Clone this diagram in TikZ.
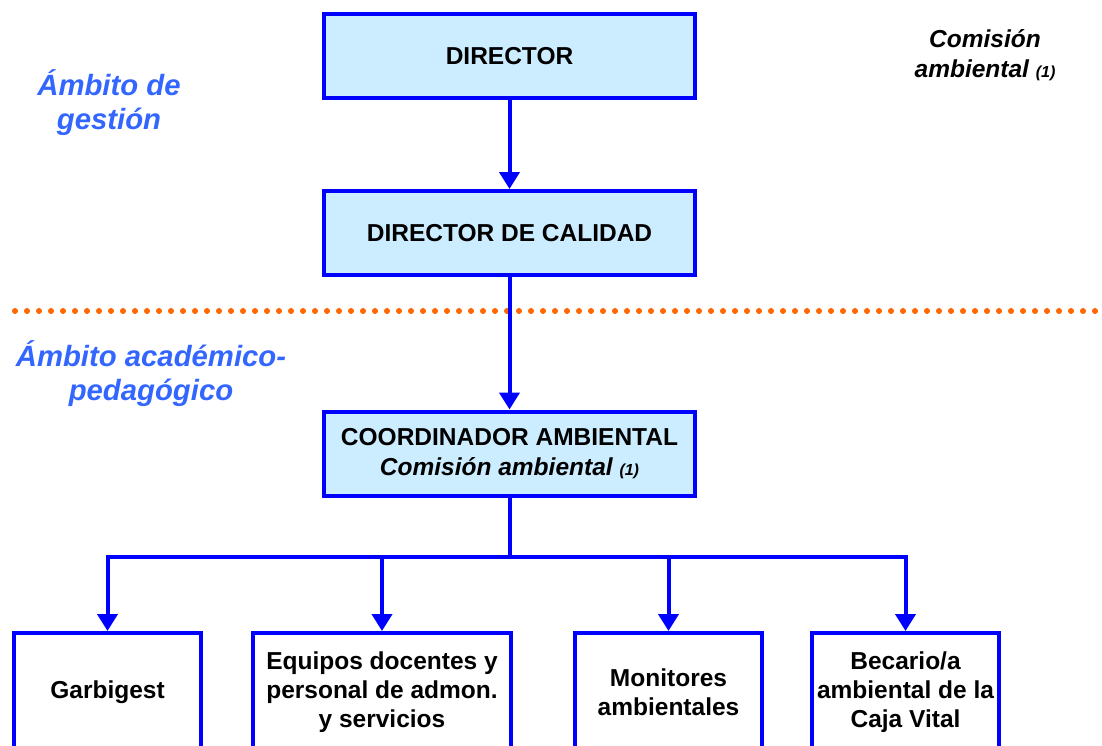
\documentclass[tikz,border=0pt]{standalone}
\usepackage{fontspec}
\setmainfont{Liberation Sans}
\usepackage{tikz}
\usetikzlibrary{arrows.meta, positioning}
\definecolor{boxblue}{RGB}{204, 236, 255}
\definecolor{lineblue}{RGB}{0, 0, 255}
\definecolor{labelblue}{RGB}{51, 102, 255}
\definecolor{dotorange}{RGB}{255, 102, 0}
\tikzset{
    boxnode/.style = {draw=lineblue, fill=boxblue, rectangle, line width=4pt, inner sep = 0em, 
      node distance=0em, minimum width=371pt, minimum height=84pt, 
      font=\fontsize{24.5pt}{30pt}\selectfont\bfseries},
    leafnode/.style = {draw=lineblue, fill=white, rectangle, line width=4pt, inner sep = 0em, 
      node distance=0em, minimum width=187pt, minimum height=118pt, 
      font=\fontsize{24.5pt}{29pt}\selectfont\bfseries},
    labelnode/.style = {draw=none, fill=none, rectangle, inner sep = 0em, node distance=0em, 
      text=labelblue, font=\fontsize{29.3pt}{34pt}\selectfont\bfseries\itshape},
    textnode/.style = {draw=none, fill=none, rectangle, inner sep = 0em, node distance=0em, 
      font=\fontsize{24.5pt}{30pt}\selectfont\bfseries\itshape},
    connect/.style = {lineblue, line width=4pt, -{Triangle[width=20pt, length=17pt]}},
    dotline/.style = {dotorange, line width=6pt, line cap=round, dash pattern=on 0pt off 12pt},
    every text node part/.style={align=center}
}
\newcommand{\smallnum}[1]{{\fontsize{16pt}{16pt}\selectfont #1}}

\begin{document}
\begin{tikzpicture}[x=1pt, y=1pt]
\useasboundingbox (0,0) rectangle (1102,-745);

\coordinate (dotl) at (15,-311);
\coordinate (dotr) at (1100,-311);
\draw [dotline] (dotl) -- (dotr);

\node [boxnode, name=dir] at (509.5,-56) {DIRECTOR};
\node [boxnode, name=cal, below of = dir, yshift=-177pt] {DIRECTOR DE CALIDAD};
\node [boxnode, name=coord, below of = cal, yshift=-220.5pt] {COORDINADOR AMBIENTAL\\ 
  {\itshape Comisión ambiental \smallnum{(1)}}};

\node [leafnode, name=garb, below of = coord, yshift=-238.5pt, xshift=-402pt] {Garbigest};
\node [leafnode, name=equip, right of = garb, xshift=274.5pt, minimum width=258pt] {Equipos docentes y\\ 
  personal de admon.\\ y servicios};
\node [leafnode, name=monit, right of = equip, xshift=286.5pt] {Monitores\\ ambientales};
\node [leafnode, name=becar, right of = monit, xshift=237pt] {Becario/a\\ ambiental de la\\ Caja Vital};

\node [labelnode, name=gest] at (109,-103) {Ámbito de\\ gestión};
\node [labelnode, name=acad] at (151,-374) {Ámbito académico-\\ pedagógico};
\node [textnode, name=comis] at (985,-55) {Comisión\\ ambiental \smallnum{(1)}};

\coordinate (bus) at (509.5,-557);
\draw [connect] (dir) -- (cal);
\draw [connect] (cal) -- (coord);
\draw [connect] (coord.south) -- (bus) -| (garb.north);
\draw [connect] (bus) -| (becar.north);
\draw [connect] (equip.north |- bus) -- (equip.north);
\draw [connect] (monit.north |- bus) -- (monit.north);
\end{tikzpicture}
\end{document}
